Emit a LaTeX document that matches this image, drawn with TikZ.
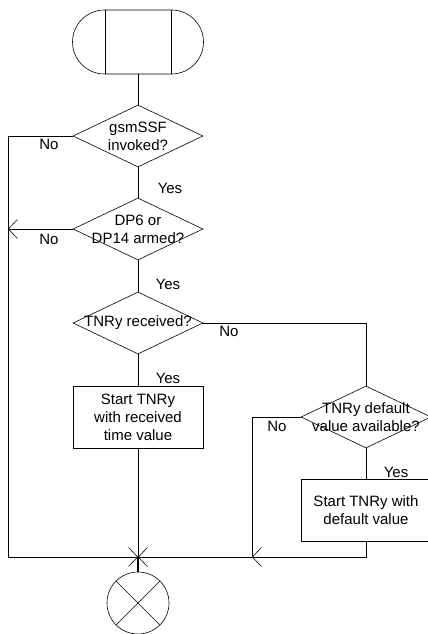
\documentclass[tikz,border=0pt]{standalone}
\usepackage{fontspec}
\setmainfont{Liberation Sans}
\usetikzlibrary{shapes.geometric,shapes.misc,arrows.meta,calc}
\begin{document}
\begin{tikzpicture}[x=1pt,y=-1pt,
  every node/.style={font=\fontsize{15}{18}\selectfont},
  ln/.style={draw=black,line width=0.6pt},
  tip/.style={-{Straight Barb[length=9pt,width=19pt]}},
  dia/.style={shape=diamond,draw,line width=0.6pt,minimum width=130pt,minimum height=62pt,inner sep=0pt},
  txt/.style={align=center,inner sep=0pt},
  boxnode/.style={draw,line width=0.6pt,minimum width=130pt,minimum height=62pt,inner sep=0pt,align=center},
  lbl/.style={inner sep=0pt}]
\useasboundingbox (0,0) rectangle (428,634);
% start terminator
\node[rounded rectangle,draw,line width=0.6pt,minimum width=131pt,minimum height=64pt,inner sep=0pt] (start) at (138,42) {};
\draw[ln] ($(start.center)+(-33,-32)$) -- ($(start.center)+(-33,32)$);
\draw[ln] ($(start.center)+(33,-32)$) -- ($(start.center)+(33,32)$);
% decisions
\node[dia] (d1) at (138,136) {};
\node[txt] (t1) at (d1) {gsmSSF\\invoked?};
\node[dia] (d2) at (138,229) {};
\node[txt] (t2) at (d2) {DP6 or\\DP14 armed?};
\node[dia] (d3) at (138,323) {};
\node[txt] (t3) at (d3) {TNRy received?};
\node[dia] (d4) at (366,417) {};
\node[txt] (t4) at (d4) {TNRy default\\value available?};
% boxes
\node[boxnode] (b1) at (138,417) {Start TNRy\\with received\\time value};
\node[boxnode] (b2) at (366,510) {Start TNRy with\\default value};
% end
\node[circle,draw,line width=0.6pt,minimum size=62pt,inner sep=0pt] (endc) at (138,603) {};
\draw[ln] (endc.north west) -- (endc.south east);
\draw[ln] (endc.north east) -- (endc.south west);
% coordinates
\coordinate (J) at (138,557);
\coordinate (L) at (8,557);
\coordinate (M) at (252,557);
% connectors
\draw[ln] (start) -- (d1);
\draw[ln] (d1) -- (d2);
\draw[ln] (d2) -- (d3);
\draw[ln] (d3) -- (b1);
\draw[ln] (d4) -- (b2);
\draw[ln,tip] (d1.west) -| (L) -- (J);
\draw[ln,tip] (d2.west) -- (d2.west -| L);
\draw[ln] (d3.east) -| (d4.north);
\draw[ln] (d4.west) -| (M);
\draw[ln,tip] (b2.south) |- (M);
\draw[ln,tip] (M) -- (J);
\draw[ln] (b1.south) -- (J);
\draw[line width=1.6pt] (J) -- (endc.north);
% labels
\node[lbl] (n1) at (49,144) {No};
\node[lbl] (n2) at (49,239) {No};
\node[lbl] (n3) at (229,331) {No};
\node[lbl] (n4) at (277,426) {No};
\node[lbl] (y1) at (170,188) {Yes};
\node[lbl] (y2) at (168,284) {Yes};
\node[lbl] (y3) at (168,378) {Yes};
\node[lbl] (y4) at (396,472) {Yes};
\end{tikzpicture}
\end{document}
